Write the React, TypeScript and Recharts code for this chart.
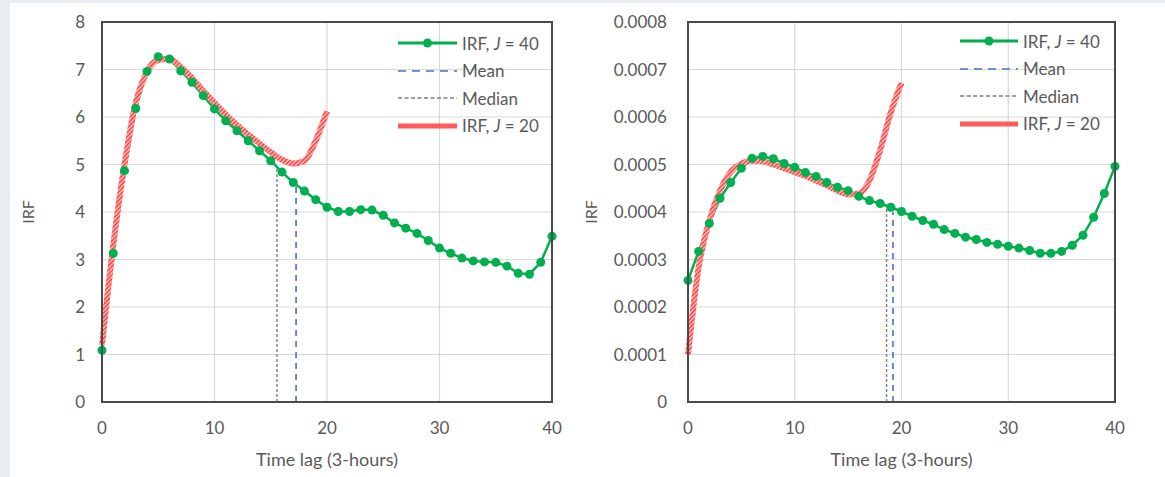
import { LineChart, Line, XAxis, YAxis, CartesianGrid, ReferenceLine } from "recharts"

const LAGS_40 = Array.from({ length: 41 }, (_, i) => i)
const LAGS_20 = Array.from({ length: 21 }, (_, i) => i)
const X_TICKS = [0, 10, 20, 30, 40]

// left panel
const LEFT_J40 = [
  1.09, 3.13, 4.87, 6.18, 6.96, 7.27, 7.22, 6.97, 6.73, 6.45,
  6.17, 5.92, 5.71, 5.5, 5.29, 5.08, 4.84, 4.62, 4.44, 4.26,
  4.1, 4.01, 4.01, 4.05, 4.04, 3.93, 3.77, 3.66, 3.55, 3.4,
  3.24, 3.13, 3.03, 2.97, 2.95, 2.94, 2.86, 2.71, 2.69, 2.94, 3.49,
]
const LEFT_J20 = [
  1.2, 3.3, 5.0, 6.3, 6.95, 7.2, 7.22, 7.05, 6.82, 6.55,
  6.3, 6.05, 5.83, 5.63, 5.44, 5.26, 5.1, 5.02, 5.08, 5.5, 6.12,
]
const LEFT_TICKS = [0, 1, 2, 3, 4, 5, 6, 7, 8]
const LEFT_MEAN = { lag: 17.25, irf: 4.6 }
const LEFT_MEDIAN = { lag: 15.55, irf: 4.92 }

// right panel
const RIGHT_J40 = [
  0.000256, 0.000317, 0.000376, 0.000429, 0.000462, 0.000492, 0.000513, 0.000517, 0.000512, 0.000502,
  0.000494, 0.000483, 0.000475, 0.000462, 0.000452, 0.000445, 0.000433, 0.000424, 0.000418, 0.00041,
  0.000401, 0.000391, 0.000382, 0.000374, 0.000363, 0.000355, 0.000347, 0.000342, 0.000336, 0.000332,
  0.000328, 0.000324, 0.000319, 0.000313, 0.000313, 0.000317, 0.00033, 0.000351, 0.000389, 0.000439, 0.000496,
]
const RIGHT_J20 = [
  0.0001, 0.000284, 0.000382, 0.000445, 0.000484, 0.000502, 0.000508, 0.000507, 0.0005, 0.000492,
  0.000484, 0.000476, 0.000466, 0.000456, 0.000445, 0.000437, 0.000439, 0.000466, 0.00053, 0.00061, 0.000672,
]
const RIGHT_TICKS = [0, 0.0001, 0.0002, 0.0003, 0.0004, 0.0005, 0.0006, 0.0007, 0.0008]
const RIGHT_MEAN = { lag: 19.2, irf: 0.0004 }
const RIGHT_MEDIAN = { lag: 18.6, irf: 0.00041 }

const LEGEND_LABELS = ["Mean", "Median"]

const FONT = "Lato, 'Open Sans', sans-serif"
const TEXT = "#595959"
const GREEN = "#00b050"
const BLUE = "#4472c4"
const GRAY = "#7f7f7f"
const FRAME = "#4a4a4a"
const PLOT_TOP = 22
const PLOT_H = 380

interface PanelProps {
  j40: number[]
  j20: number[]
  yTicks: number[]
  mean: { lag: number; irf: number }
  median: { lag: number; irf: number }
  yWidth: number
  plotWidth: number
  width: number
  tickGap: number
  labelX: number
  fmt: (v: number) => string
  id: string
}

function Panel({ j40, j20, yTicks, mean, median, yWidth, plotWidth, width, tickGap, labelX, fmt, id }: PanelProps) {
  const top = yTicks[yTicks.length - 1]
  const d40 = LAGS_40.map((lag, i) => ({ lag, v: j40[i] }))
  const d20 = LAGS_20.map((lag, i) => ({ lag, v: j20[i] }))
  const tick = { fontSize: 17, fill: TEXT, fontFamily: FONT }

  return (
    <div style={{ position: "relative", width, height: 477 }}>
      <LineChart
        width={width}
        height={477}
        margin={{ top: PLOT_TOP, right: width - yWidth - plotWidth, left: 0, bottom: 0 }}
        style={{ fontFamily: FONT }}
      >
        <defs>
          <pattern id={`hatch-${id}`} width="3" height="3" patternUnits="userSpaceOnUse" patternTransform="rotate(45)">
            <rect width="3" height="3" fill="#ffa8a8" />
            <line x1="0" y1="0" x2="0" y2="3" stroke="#ff2424" strokeWidth="1.9" />
          </pattern>
        </defs>
        <CartesianGrid stroke="#d9d9d9" strokeWidth={1.2} />
        <XAxis
          dataKey="lag"
          type="number"
          domain={[0, 40]}
          ticks={X_TICKS}
          tick={tick}
          tickLine={false}
          axisLine={false}
          tickMargin={14}
          height={477 - PLOT_TOP - PLOT_H}
          allowDuplicatedCategory={false}
          label={{ value: "Time lag (3-hours)", position: "insideBottom", offset: 11, fill: TEXT, fontSize: 18, fontFamily: FONT }}
        />
        <YAxis
          type="number"
          domain={[0, top]}
          ticks={yTicks}
          tick={tick}
          tickLine={false}
          axisLine={false}
          tickMargin={tickGap - 6}
          width={yWidth}
          tickFormatter={fmt}
          label={{ value: "IRF", angle: -90, position: "insideLeft", offset: labelX, fill: TEXT, fontSize: 16, fontFamily: FONT, style: { textAnchor: "middle" } }}
        />
        <ReferenceLine segment={[{ x: median.lag, y: 0 }, { x: median.lag, y: median.irf }]} stroke={GRAY} strokeWidth={1.4} strokeDasharray="3 2" />
        <ReferenceLine segment={[{ x: mean.lag, y: 0 }, { x: mean.lag, y: mean.irf }]} stroke={BLUE} strokeWidth={1.6} strokeDasharray="6 5" />
        <Line
          data={d40}
          dataKey="v"
          type="linear"
          stroke={GREEN}
          strokeWidth={2.5}
          dot={{ r: 4.5, fill: GREEN, stroke: GREEN, strokeWidth: 0 }}
          isAnimationActive={false}
        />
        <Line
          data={d20}
          dataKey="v"
          type="monotone"
          stroke={`url(#hatch-${id})`}
          strokeWidth={6}
          dot={false}
          isAnimationActive={false}
        />
      </LineChart>
      {/* plot-area frame */}
      <div
        style={{
          position: "absolute",
          left: yWidth - 1,
          top: PLOT_TOP - 1,
          width: plotWidth - 2,
          height: PLOT_H - 2,
          border: `2px solid ${FRAME}`,
          pointerEvents: "none",
        }}
      />
    </div>
  )
}

function Legend({ left, top, textLeft }: { left: number; top: number; textLeft: number }) {
  const w = textLeft - left - 5
  const rowH = 27.5
  const rows = [
    <svg width={w} height={10} key="g">
      <line x1={0} y1={5} x2={w} y2={5} stroke={GREEN} strokeWidth={3} />
      <circle cx={w / 2} cy={5} r={4.5} fill={GREEN} />
    </svg>,
    <svg width={w} height={10} key="m">
      <line x1={0} y1={5} x2={w} y2={5} stroke={BLUE} strokeWidth={1.6} strokeDasharray="8 6" />
    </svg>,
    <svg width={w} height={10} key="d">
      <line x1={0} y1={5} x2={w} y2={5} stroke={GRAY} strokeWidth={1.4} strokeDasharray="4 2.5" />
    </svg>,
    <svg width={w} height={10} key="r">
      <line x1={0} y1={5} x2={w} y2={5} stroke="#ff5b5b" strokeWidth={5} />
    </svg>,
  ]
  const labels = [
    <span key="a">IRF, <i>J</i> = 40</span>,
    <span key="b">{LEGEND_LABELS[0]}</span>,
    <span key="c">{LEGEND_LABELS[1]}</span>,
    <span key="e">IRF, <i>J</i> = 20</span>,
  ]
  return (
    <div style={{ position: "absolute", left, top: top - rowH / 2, fontFamily: FONT, fontSize: 17, color: TEXT, whiteSpace: "nowrap" }}>
      {rows.map((r, i) => (
        <div key={i} style={{ height: rowH, display: "flex", alignItems: "center" }}>
          {r}
          <div style={{ marginLeft: 5 }}>{labels[i]}</div>
        </div>
      ))}
    </div>
  )
}

export default function App() {
  return (
    <div style={{ position: "absolute", left: 0, top: 0, width: 1165, height: 477, background: "#e9edef", overflow: "hidden" }}>
      <div style={{ position: "absolute", left: 10, top: 3, width: 1155, height: 474, background: "#ffffff" }} />
      <div style={{ position: "absolute", left: 0, top: 0 }}>
        <Panel
          id="l"
          j40={LEFT_J40}
          j20={LEFT_J20}
          yTicks={LEFT_TICKS}
          mean={LEFT_MEAN}
          median={LEFT_MEDIAN}
          yWidth={102}
          plotWidth={450}
          width={580}
          tickGap={17}
          labelX={28}
          fmt={(v) => String(v)}
        />
      </div>
      <div style={{ position: "absolute", left: 580, top: 0 }}>
        <Panel
          id="r"
          j40={RIGHT_J40}
          j20={RIGHT_J20}
          yTicks={RIGHT_TICKS}
          mean={RIGHT_MEAN}
          median={RIGHT_MEDIAN}
          yWidth={108}
          plotWidth={427}
          width={585}
          tickGap={21}
          labelX={11}
          fmt={(v) => (v === 0 ? "0" : v.toFixed(4))}
        />
      </div>
      <Legend left={398} top={43} textLeft={462} />
      <Legend left={960} top={41} textLeft={1023} />
    </div>
  )
}
